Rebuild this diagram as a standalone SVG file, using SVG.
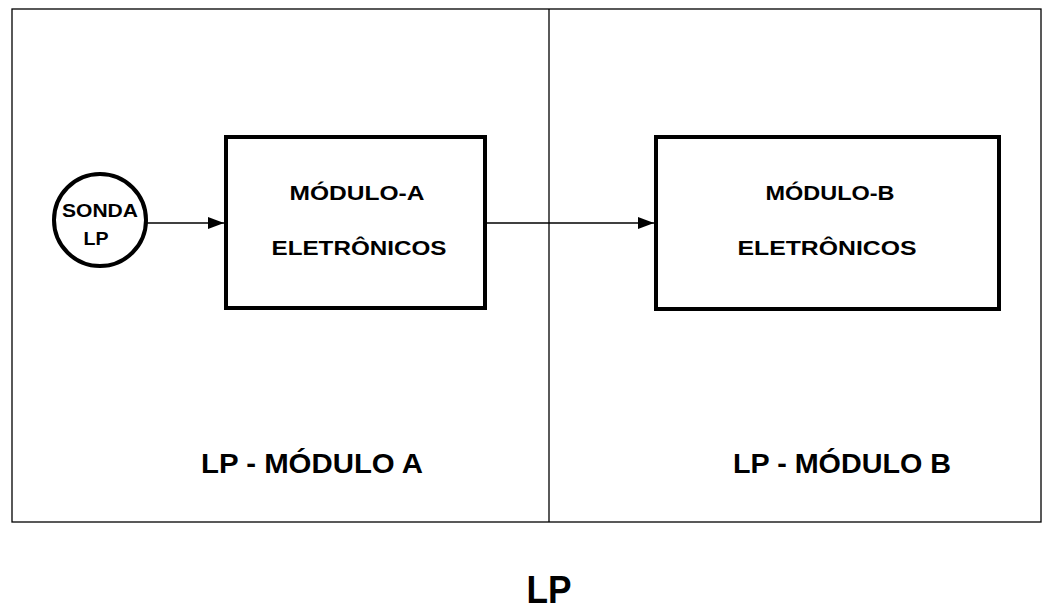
<svg xmlns="http://www.w3.org/2000/svg" width="1047" height="609" viewBox="0 0 1047 609">
<style>
text{font-family:"Liberation Sans",Arial,sans-serif;fill:#000;font-weight:bold}
.box{fill:#fff;stroke:#000;stroke-width:4}
.frame{fill:none;stroke:#000;stroke-width:1.3}
.conn{stroke:#000;stroke-width:1.6;fill:none}
</style>
<defs>
<marker id="ah" viewBox="0 0 16 12" refX="16" refY="6" markerWidth="16" markerHeight="12" markerUnits="userSpaceOnUse" orient="auto">
<path d="M0,0 L16,6 L0,12 Z" fill="#000"/>
</marker>
</defs>
<rect width="1047" height="609" fill="#fff"/>
<g id="frame">
<rect class="frame" x="12" y="9" width="1029" height="513"/>
<line class="frame" x1="549" y1="9" x2="549" y2="522"/>
</g>
<g id="connectors">
<line class="conn" x1="147" y1="223" x2="224" y2="223" marker-end="url(#ah)"/>
<line class="conn" x1="487" y1="223" x2="654" y2="223" marker-end="url(#ah)"/>
</g>
<g id="sonda">
<circle cx="100" cy="220" r="46" fill="#fff" stroke="#000" stroke-width="4"/>
<text x="100" y="217" font-size="18" text-anchor="middle" textLength="76" lengthAdjust="spacingAndGlyphs">SONDA</text>
<text x="96" y="245" font-size="18" text-anchor="middle" textLength="25" lengthAdjust="spacingAndGlyphs">LP</text>
</g>
<g id="modulo-a">
<rect class="box" x="226" y="137" width="259" height="171"/>
<text x="357" y="200" font-size="21" text-anchor="middle" textLength="135" lengthAdjust="spacingAndGlyphs">MÓDULO-A</text>
<text x="359" y="255" font-size="21" text-anchor="middle" textLength="175" lengthAdjust="spacingAndGlyphs">ELETRÔNICOS</text>
</g>
<g id="modulo-b">
<rect class="box" x="656" y="137" width="343" height="172"/>
<text x="830" y="200" font-size="21" text-anchor="middle" textLength="129" lengthAdjust="spacingAndGlyphs">MÓDULO-B</text>
<text x="827" y="255" font-size="21" text-anchor="middle" textLength="179" lengthAdjust="spacingAndGlyphs">ELETRÔNICOS</text>
</g>
<g id="labels">
<text x="312" y="473" font-size="27" text-anchor="middle" textLength="222" lengthAdjust="spacingAndGlyphs">LP - MÓDULO A</text>
<text x="842" y="473" font-size="27" text-anchor="middle" textLength="218" lengthAdjust="spacingAndGlyphs">LP - MÓDULO B</text>
<text x="549" y="603" font-size="38" text-anchor="middle" textLength="45" lengthAdjust="spacingAndGlyphs">LP</text>
</g>
</svg>
